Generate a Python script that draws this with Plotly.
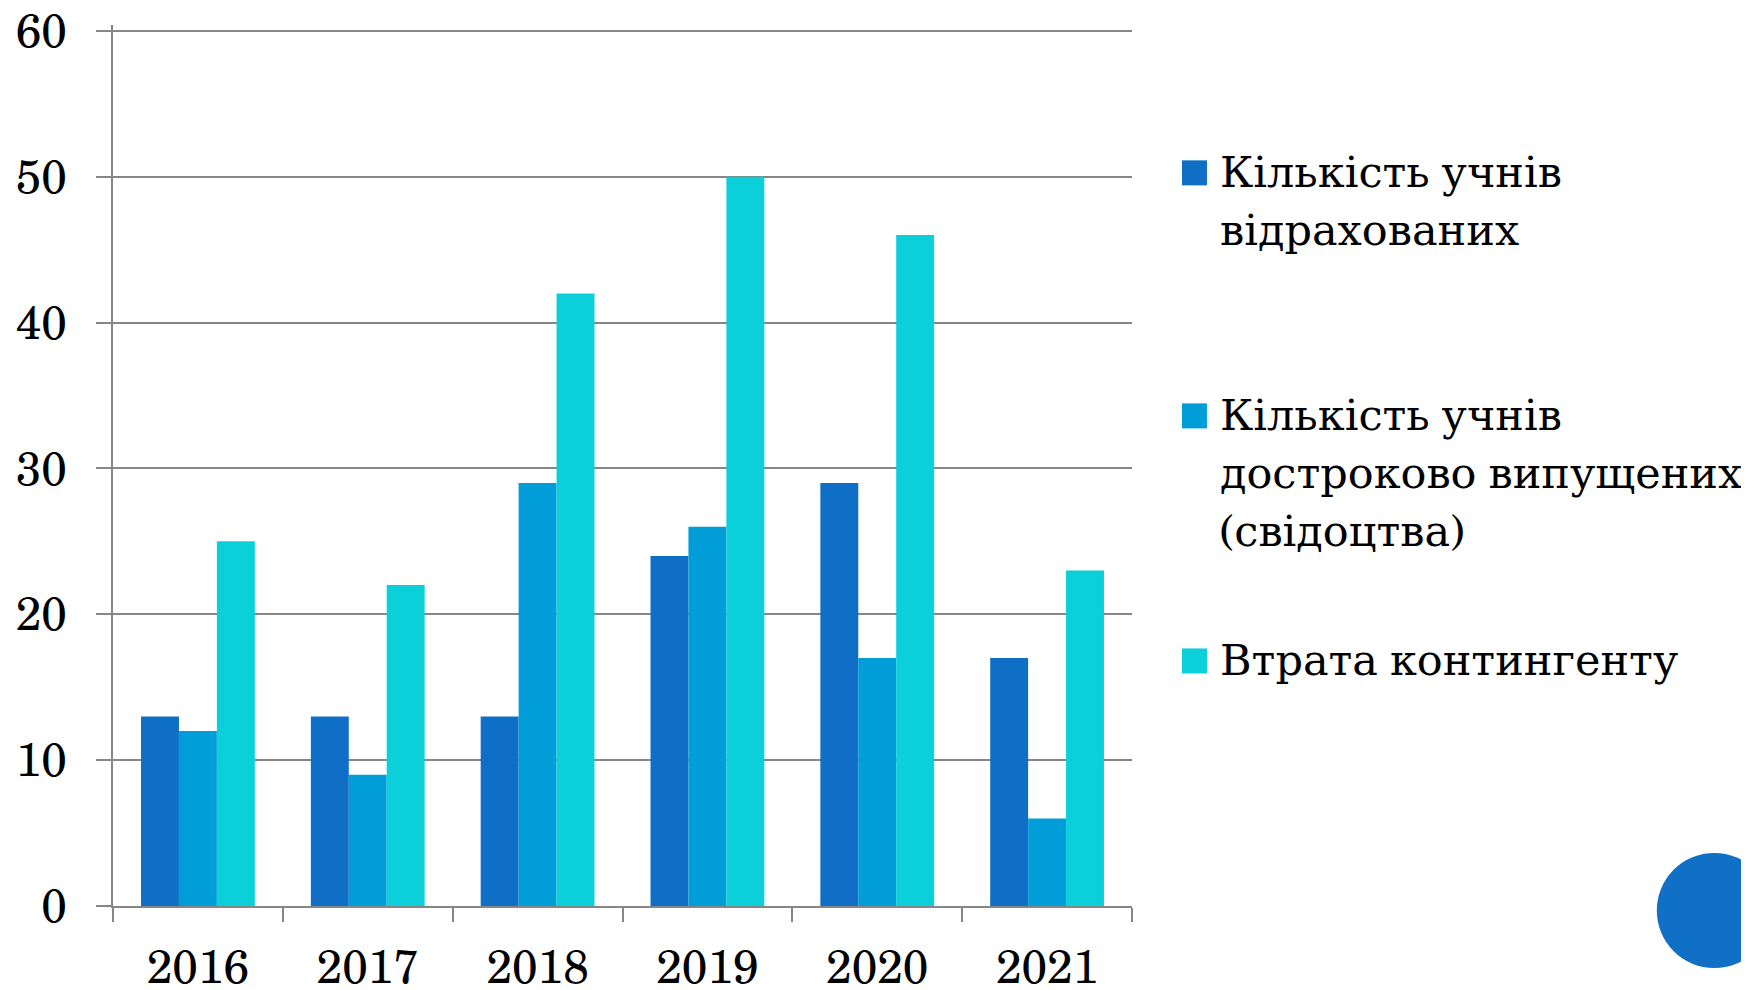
import plotly.graph_objects as go

years = ["2016", "2017", "2018", "2019", "2020", "2021"]
expelled = [13, 13, 13, 24, 29, 17]
early_graduated = [12, 9, 29, 26, 17, 6]
contingent_loss = [25, 22, 42, 50, 46, 23]

series_lines = [
    ["Кількість учнів", "відрахованих"],
    ["Кількість учнів", "достроково випущених", "(свідоцтва)"],
    ["Втрата контингенту"],
]
series_values = [expelled, early_graduated, contingent_loss]
colors = ["#0F6FC6", "#009DD9", "#0BD0D9"]

# the page body adds an 8px offset, so the figure is sized to fit the window
OFF = 8
W, H = 1749 - OFF, 990 - OFF
Y_TOP = 60.4
L, R, B = 112.6 - OFF, 1132 - OFF, 906 - OFF
T = (31 - OFF) - (Y_TOP - 60) * (906 - 31) / 60
FONT = "Century Schoolbook, TeX Gyre Schola, DejaVu Serif, serif"


def px_x(px):
    return (px - OFF - L) / (R - L)


def px_y(py):
    return (B - (py - OFF)) / (B - T)


fig = go.Figure()
for lines, vals, col in zip(series_lines, series_values, colors):
    fig.add_trace(go.Bar(x=years, y=vals, name=" ".join(lines),
                         marker=dict(color=col, line=dict(width=0)),
                         showlegend=False))

fig.update_layout(
    width=W, height=H,
    margin=dict(l=L, r=W - R, t=T, b=H - B, pad=0, autoexpand=False),
    paper_bgcolor="white", plot_bgcolor="white",
    bargap=0.33, bargroupgap=0,
    font=dict(family=FONT, color="black", size=46),
)
fig.update_xaxes(
    type="category", tickson="boundaries", ticks="outside", ticklen=14,
    tickwidth=2, tickcolor="#868686", showline=True, linecolor="#868686",
    linewidth=2, showgrid=False, tickfont=dict(size=46, family=FONT),
    ticklabelstandoff=20, automargin=False, ticklabeloverflow="allow",
)
fig.update_yaxes(
    range=[0, Y_TOP], tickvals=[0, 10, 20, 30, 40, 50, 60], ticks="outside",
    ticklen=15, tickwidth=2,
    tickcolor="#868686", showline=True, linecolor="#868686", linewidth=2,
    showgrid=True, gridcolor="#868686", gridwidth=2, zeroline=False,
    tickfont=dict(size=46, family=FONT), ticklabelstandoff=20, automargin=False,
    ticklabeloverflow="allow",
)

# legend (manual, to match the large square markers)
legend_first_line_y = [173, 416, 661]
LINE_STEP = 58
for lines, col, yc in zip(series_lines, colors, legend_first_line_y):
    fig.add_shape(type="rect", xref="paper", yref="paper",
                  x0=px_x(1182), x1=px_x(1207), y0=px_y(yc + 12.5), y1=px_y(yc - 12.5),
                  fillcolor=col, line=dict(width=0))
    for i, line in enumerate(lines):
        fig.add_annotation(text=line, xref="paper", yref="paper",
                           x=px_x(1218), y=px_y(yc + i * LINE_STEP - 3),
                           xanchor="left", yanchor="middle",
                           align="left", showarrow=False,
                           font=dict(size=43, family=FONT, color="black"))

# decorative circle at bottom right
fig.add_shape(type="circle", xref="paper", yref="paper",
              x0=px_x(1657), x1=px_x(1772), y0=px_y(968), y1=px_y(853),
              fillcolor="#1070C5", line=dict(width=0), layer="above")

fig.write_html("out.html")
